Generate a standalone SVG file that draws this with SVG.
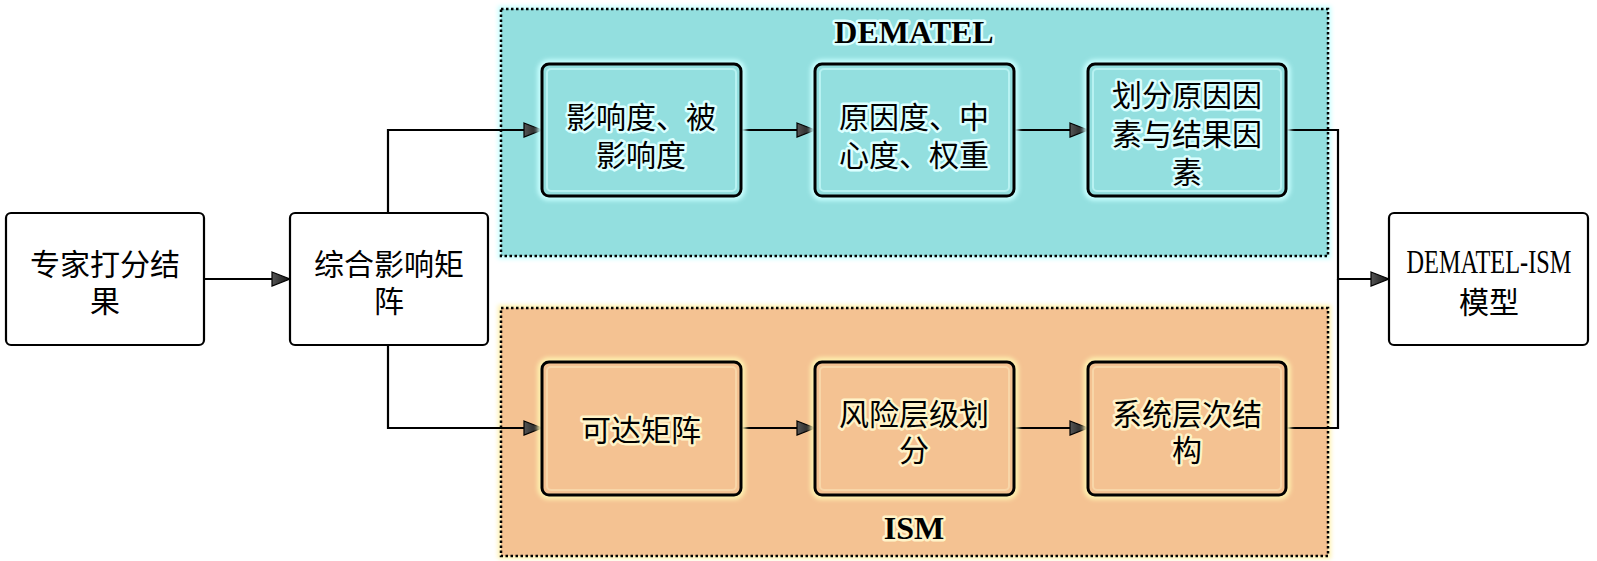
<svg xmlns="http://www.w3.org/2000/svg" width="1597" height="561" viewBox="0 0 1597 561">
<style>
.node{fill:#fff;stroke:#000;stroke-width:2.2}
.t{font-family:"Noto Sans CJK SC","Noto Sans",sans-serif;font-size:30px;text-anchor:middle;dominant-baseline:central;fill:#000}
.tc{stroke:#dcffff;stroke-width:5;paint-order:stroke;stroke-linejoin:round}
.to{stroke:#fff3c8;stroke-width:5;paint-order:stroke;stroke-linejoin:round}
.inner{stroke:#000;stroke-width:3}
.haloC{fill:none;stroke:#c8ffff;stroke-width:9;filter:url(#blur)}
.haloO{fill:none;stroke:#fff2b0;stroke-width:9;filter:url(#blur)}
.edge{fill:none;stroke:#000;stroke-width:2.2;marker-end:url(#arr)}
.title{font-family:"Liberation Serif",serif;font-weight:bold;font-size:32px;text-anchor:middle}
</style>
<defs>
<filter id="blur" x="-10%" y="-10%" width="120%" height="120%"><feGaussianBlur stdDeviation="2"/></filter>
<linearGradient id="ag" x1="0" y1="0" x2="1" y2="0"><stop offset="0" stop-color="#555"/><stop offset="1" stop-color="#111"/></linearGradient>
<marker id="arr" markerUnits="userSpaceOnUse" markerWidth="20" markerHeight="16" refX="19" refY="8" orient="auto">
<path d="M1,1 L19,8 L1,15 Z" fill="url(#ag)" stroke="#000" stroke-width="1.2"/>
</marker>
</defs>

<g id="DEMATEL">
<rect x="501" y="9" width="827" height="247" fill="none" stroke="#c8ffff" stroke-width="6" filter="url(#blur)"/>
<rect x="501" y="9" width="827" height="247" fill="#93dfdf" stroke="#000" stroke-width="2.5" stroke-dasharray="2.5 2.5"/>
<text class="title tc" x="914" y="43">DEMATEL</text>
</g>
<g id="ISM">
<rect x="501" y="308" width="827" height="248" fill="none" stroke="#fff2b0" stroke-width="6" filter="url(#blur)"/>
<rect x="501" y="308" width="827" height="248" fill="#f4c292" stroke="#000" stroke-width="2.5" stroke-dasharray="2.5 2.5"/>
<text class="title to" x="914" y="539">ISM</text>
</g>

<g id="connectors">
<path d="M741,130 H815 M1014,130 H1088 M1286,130 H1328 M501,130 H542" class="haloC" stroke-width="7"/>
<path d="M741,428 H815 M1014,428 H1088 M1286,428 H1328 M501,428 H542" class="haloO" stroke-width="7"/>
<path class="edge" d="M204,279 H290"/>
<path class="edge" d="M388,213 V130 H542"/>
<path class="edge" d="M388,345 V428 H542"/>
<path class="edge" d="M741,130 H815"/>
<path class="edge" d="M1014,130 H1088"/>
<path class="edge" d="M741,428 H815"/>
<path class="edge" d="M1014,428 H1088"/>
<path class="edge" d="M1286,130 H1338 V279 H1389"/>
<path d="M1286,428 H1338 V279" fill="none" stroke="#000" stroke-width="2.2"/>
</g>

<g id="n1">
<rect class="node" x="6" y="213" width="198" height="132" rx="5"/>
<text class="t" x="105" y="262">专家打分结</text>
<text class="t" x="105" y="299">果</text>
</g>
<g id="n2">
<rect class="node" x="290" y="213" width="198" height="132" rx="5"/>
<text class="t" x="389" y="262">综合影响矩</text>
<text class="t" x="389" y="299">阵</text>
</g>
<g id="n3">
<rect class="node" x="1389" y="213" width="199" height="132" rx="5"/>
<text x="1489" y="273" font-family="Liberation Serif,serif" font-size="33" text-anchor="middle" textLength="165" lengthAdjust="spacingAndGlyphs">DEMATEL-ISM</text>
<text class="t" x="1489" y="300">模型</text>
</g>

<g id="d1">
<rect class="haloC" x="542" y="64" width="199" height="132" rx="7"/>
<rect class="inner" fill="#93dfdf" x="542" y="64" width="199" height="132" rx="7"/>
<rect x="547" y="69" width="189" height="122" rx="4" fill="none" stroke="#b8f2f2" stroke-width="2"/>
<text class="t tc" x="641" y="115">影响度、被</text>
<text class="t tc" x="641" y="153">影响度</text>
</g>
<g id="d2">
<rect class="haloC" x="815" y="64" width="199" height="132" rx="7"/>
<rect class="inner" fill="#93dfdf" x="815" y="64" width="199" height="132" rx="7"/>
<rect x="820" y="69" width="189" height="122" rx="4" fill="none" stroke="#b8f2f2" stroke-width="2"/>
<text class="t tc" x="914" y="115">原因度、中</text>
<text class="t tc" x="914" y="153">心度、权重</text>
</g>
<g id="d3">
<rect class="haloC" x="1088" y="64" width="198" height="132" rx="7"/>
<rect class="inner" fill="#93dfdf" x="1088" y="64" width="198" height="132" rx="7"/>
<rect x="1093" y="69" width="188" height="122" rx="4" fill="none" stroke="#b8f2f2" stroke-width="2"/>
<text class="t tc" x="1187" y="93">划分原因因</text>
<text class="t tc" x="1187" y="132">素与结果因</text>
<text class="t tc" x="1187" y="170">素</text>
</g>

<g id="i1">
<rect class="haloO" x="542" y="362" width="199" height="133" rx="7"/>
<rect class="inner" fill="#f4c292" x="542" y="362" width="199" height="133" rx="7"/>
<rect x="547" y="367" width="189" height="123" rx="4" fill="none" stroke="#f8d6a8" stroke-width="2"/>
<text class="t to" x="641" y="428">可达矩阵</text>
</g>
<g id="i2">
<rect class="haloO" x="815" y="362" width="199" height="133" rx="7"/>
<rect class="inner" fill="#f4c292" x="815" y="362" width="199" height="133" rx="7"/>
<rect x="820" y="367" width="189" height="123" rx="4" fill="none" stroke="#f8d6a8" stroke-width="2"/>
<text class="t to" x="914" y="412">风险层级划</text>
<text class="t to" x="914" y="448">分</text>
</g>
<g id="i3">
<rect class="haloO" x="1088" y="362" width="198" height="133" rx="7"/>
<rect class="inner" fill="#f4c292" x="1088" y="362" width="198" height="133" rx="7"/>
<rect x="1093" y="367" width="188" height="123" rx="4" fill="none" stroke="#f8d6a8" stroke-width="2"/>
<text class="t to" x="1187" y="412">系统层次结</text>
<text class="t to" x="1187" y="448">构</text>
</g>
</svg>
